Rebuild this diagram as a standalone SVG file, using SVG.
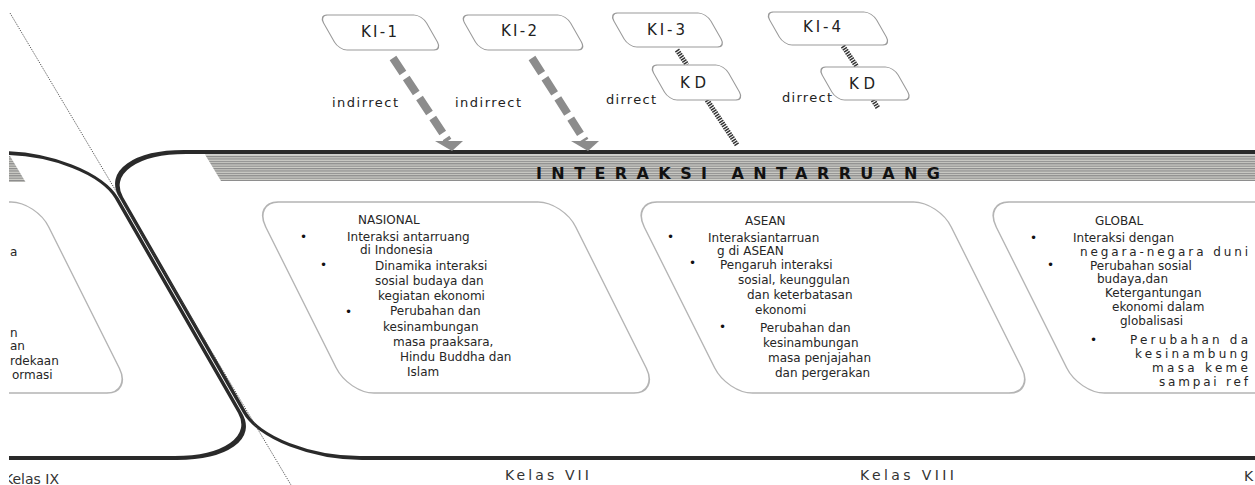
<svg xmlns="http://www.w3.org/2000/svg" width="1255" height="485" viewBox="0 0 1255 485">
<style>
.big{fill:#fff;stroke:#2a2a2a;stroke-width:4}
.inner{fill:#fff;stroke:#b4b4b4;stroke-width:1.5}
.kbox{fill:#fff;stroke:#9a9a9a;stroke-width:1.2}
.t{font-family:"DejaVu Sans",sans-serif;font-size:12px;fill:#262626}
.h{font-family:"DejaVu Sans",sans-serif;font-size:12px;fill:#262626}
.k{font-family:"DejaVu Sans",sans-serif;font-size:15px;fill:#222;text-anchor:middle}
.lbl{font-family:"DejaVu Sans",sans-serif;font-size:13px;fill:#222}
.kl{font-family:"DejaVu Sans",sans-serif;font-size:14px;fill:#333}
.b{font-family:"DejaVu Sans",sans-serif;font-size:12px;fill:#111}
.ind{fill:none;stroke:#8c8c8c;stroke-width:8;stroke-dasharray:18 6}
.dir{fill:none;stroke:#333;stroke-width:5;stroke-dasharray:1.5 1}
</style>
<defs>
<pattern id="stripes" width="8" height="2.4" patternUnits="userSpaceOnUse">
<rect width="8" height="2.4" fill="#d0d0ca"/>
<rect width="8" height="1.2" fill="#8a8a8a"/>
</pattern>
<clipPath id="frame"><rect x="9" y="0" width="1246" height="485"/></clipPath>
</defs>
<rect width="1255" height="485" fill="#fff"/>
<g clip-path="url(#frame)">
<g id="kelas-ix-frame">
<g transform="translate(-122,305) skewX(29.86)"><rect class="big" x="-300" y="-152" width="600" height="305" rx="90" ry="45"/></g>
<polygon points="0,156 10,156 25.5,182 0,182" fill="url(#stripes)"/>
</g>
<g id="kelas-vii-viii-frame">
<g transform="translate(833,305) skewX(29.86)"><rect class="big" x="-650" y="-153" width="1300" height="306" rx="90" ry="45"/></g>
<polygon points="205,154.5 1260,154.5 1260,181 221,181" fill="url(#stripes)"/>
<text x="536" y="179" font-family="'DejaVu Sans',sans-serif" font-size="16" font-weight="bold" fill="#111" textLength="404" lengthAdjust="spacing">INTERAKSI ANTARRUANG</text>
</g>
<g id="box-ix">
<g transform="translate(-70,297.5) skewX(26.57)"><rect class="inner" x="-153" y="-95.5" width="307" height="191" rx="25"/></g>
<text class="t" x="10" y="256">a</text>
<text class="t" x="10" y="337">n</text>
<text class="t" x="10" y="350">an</text>
<text class="t" x="10" y="365">rdekaan</text>
<text class="t" x="12" y="379">ormasi</text>
</g>
<g id="box-nasional">
<g transform="translate(456,297.5) skewX(26.57)"><rect class="inner" x="-155" y="-95.5" width="310" height="191" rx="25"/></g>
<text class="h" x="358" y="224">NASIONAL</text>
<text class="b" x="300" y="241">•</text>
<text class="t" x="347" y="241">Interaksi antarruang</text>
<text class="t" x="360" y="254">di Indonesia</text>
<text class="b" x="320" y="269">•</text>
<text class="t" x="375" y="270">Dinamika interaksi</text>
<text class="t" x="375" y="285">sosial budaya dan</text>
<text class="t" x="378" y="300">kegiatan ekonomi</text>
<text class="b" x="345" y="316">•</text>
<text class="t" x="390" y="315">Perubahan dan</text>
<text class="t" x="383" y="331">kesinambungan</text>
<text class="t" x="393" y="346">masa praaksara,</text>
<text class="t" x="400" y="361">Hindu Buddha dan</text>
<text class="t" x="407" y="376">Islam</text>
</g>
<g id="box-asean">
<g transform="translate(833,297.5) skewX(26.57)"><rect class="inner" x="-153.5" y="-95.5" width="307" height="191" rx="25"/></g>
<text class="h" x="745" y="225">ASEAN</text>
<text class="b" x="667" y="241">•</text>
<text class="t" x="708" y="242">Interaksiantarruan</text>
<text class="t" x="717" y="255">g di ASEAN</text>
<text class="b" x="689" y="267">•</text>
<text class="t" x="720" y="269">Pengaruh interaksi</text>
<text class="t" x="738" y="284">sosial, keunggulan</text>
<text class="t" x="747" y="299">dan keterbatasan</text>
<text class="t" x="755" y="314">ekonomi</text>
<text class="b" x="719" y="331">•</text>
<text class="t" x="760" y="332">Perubahan dan</text>
<text class="t" x="763" y="347">kesinambungan</text>
<text class="t" x="768" y="362">masa penjajahan</text>
<text class="t" x="775" y="377">dan pergerakan</text>
</g>
<g id="box-global">
<g transform="translate(1185,297.5) skewX(26.57)"><rect class="inner" x="-153.5" y="-95.5" width="307" height="191" rx="25"/></g>
<text class="h" x="1095" y="225">GLOBAL</text>
<text class="b" x="1030" y="242">•</text>
<text class="t" x="1073" y="242">Interaksi dengan</text>
<text class="t" x="1080" y="256" textLength="168" lengthAdjust="spacing">negara-negara duni</text>
<text class="b" x="1047" y="269">•</text>
<text class="t" x="1090" y="270">Perubahan sosial</text>
<text class="t" x="1097" y="283">budaya,dan</text>
<text class="t" x="1105" y="297">Ketergantungan</text>
<text class="t" x="1112" y="311">ekonomi dalam</text>
<text class="t" x="1120" y="325">globalisasi</text>
<text class="b" x="1090" y="344">•</text>
<text class="t" x="1130" y="344" textLength="118" lengthAdjust="spacing">Perubahan da</text>
<text class="t" x="1135" y="358" textLength="113" lengthAdjust="spacing">kesinambung</text>
<text class="t" x="1152" y="372" textLength="96" lengthAdjust="spacing">masa keme</text>
<text class="t" x="1159" y="386" textLength="89" lengthAdjust="spacing">sampai ref</text>
</g>
<line x1="10" y1="13" x2="291" y2="485" stroke="#444" stroke-width="1" stroke-dasharray="1 1.2"/>
<g id="connectors">
<line class="ind" x1="393" y1="58" x2="448" y2="141"/>
<polygon points="435,141 463,141 452,151" fill="#8c8c8c"/>
<line class="ind" x1="532" y1="58" x2="585" y2="141"/>
<polygon points="571,141 599,141 588,151" fill="#8c8c8c"/>
<line class="dir" x1="677" y1="50" x2="687" y2="65"/>
<line class="dir" x1="707" y1="100" x2="737" y2="145"/>
<line class="dir" x1="843" y1="46" x2="857" y2="67"/>
<line class="dir" x1="873" y1="100" x2="878" y2="108"/>
<text class="lbl" x="332" y="107" textLength="66" lengthAdjust="spacing">indirrect</text>
<text class="lbl" x="455" y="107" textLength="66" lengthAdjust="spacing">indirrect</text>
<text class="lbl" x="606" y="104" textLength="50" lengthAdjust="spacing">dirrect</text>
<text class="lbl" x="782" y="102" textLength="50" lengthAdjust="spacing">dirrect</text>
</g>
<g id="ki-1">
<g transform="translate(380.5,32.5) skewX(29.7)"><rect class="kbox" x="-51.5" y="-17.5" width="103" height="35" rx="8"/></g>
<text class="k" x="379" y="37" textLength="36" lengthAdjust="spacing">KI-1</text>
</g>
<g id="ki-2">
<g transform="translate(523,32.5) skewX(29.7)"><rect class="kbox" x="-53" y="-17.5" width="106" height="35" rx="8"/></g>
<text class="k" x="519" y="36" textLength="36" lengthAdjust="spacing">KI-2</text>
</g>
<g id="ki-3">
<g transform="translate(667.5,30) skewX(29.7)"><rect class="kbox" x="-48.5" y="-17" width="97" height="34" rx="8"/></g>
<text class="k" x="666" y="35" textLength="38" lengthAdjust="spacing">KI-3</text>
</g>
<g id="ki-4">
<g transform="translate(828,28.5) skewX(29.7)"><rect class="kbox" x="-53.5" y="-16.5" width="107" height="33" rx="8"/></g>
<text class="k" x="822" y="32" textLength="38" lengthAdjust="spacing">KI-4</text>
</g>
<g id="kd-1">
<g transform="translate(696.5,82.5) skewX(29.7)"><rect class="kbox" x="-37.5" y="-17.5" width="75" height="35" rx="8"/></g>
<text class="k" x="693" y="88" textLength="26" lengthAdjust="spacing">KD</text>
</g>
<g id="kd-2">
<g transform="translate(865,83.5) skewX(29.7)"><rect class="kbox" x="-38" y="-16.5" width="76" height="33" rx="8"/></g>
<text class="k" x="862" y="89" textLength="26" lengthAdjust="spacing">KD</text>
</g>
<g id="kelas-labels">
<text class="kl" x="4" y="484">Kelas IX</text>
<text class="kl" x="505" y="480" textLength="84" lengthAdjust="spacing">Kelas VII</text>
<text class="kl" x="860" y="480" textLength="94" lengthAdjust="spacing">Kelas VIII</text>
<text class="kl" x="1244" y="481">K</text>
</g>
</g>
</svg>
